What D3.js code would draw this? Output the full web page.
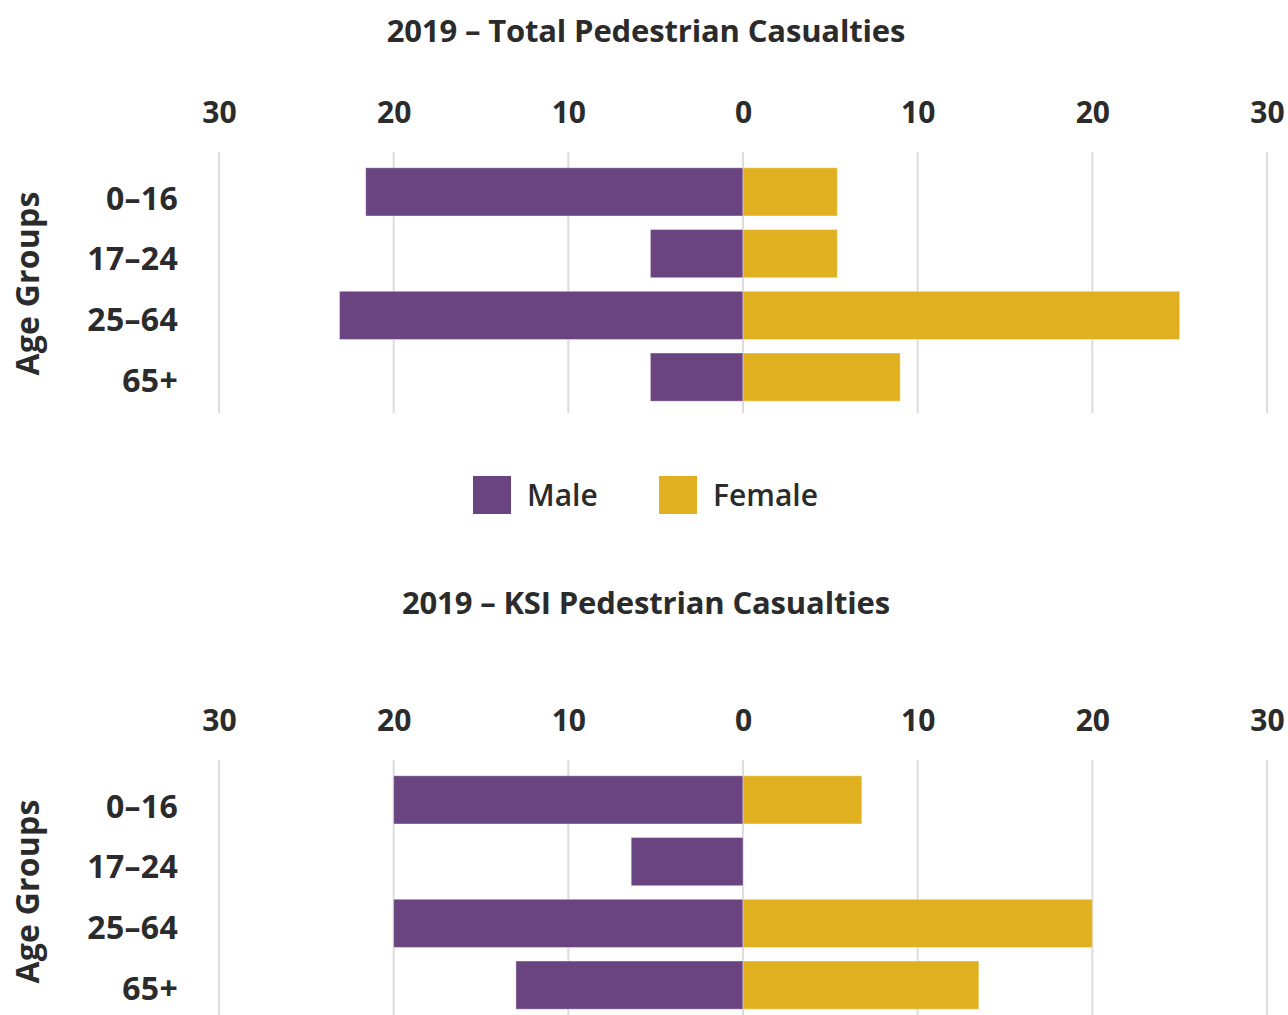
<!DOCTYPE html>
<html>
<head>
<meta charset="utf-8">
<script src="https://cdn.jsdelivr.net/npm/d3@7"></script>
<style>
  html, body { margin: 0; padding: 0; background: #fff; }
  svg { display: block; }
  text { font-family: "Open Sans", "Noto Sans", sans-serif; fill: #2b2b2b; }
</style>
</head>
<body>
<svg id="chart" width="1288" height="1015"></svg>
<script>
// Age bands shown on each pyramid
const ageGroups = ["0–16", "17–24", "25–64", "65+"];

// Share of pedestrian casualties (%) by sex, 2019
const totalMale   = [21.6, 5.3, 23.1, 5.3];
const totalFemale = [5.4, 5.4, 25.0, 9.0];
const ksiMale     = [20.0, 6.4, 20.0, 13.0];
const ksiFemale   = [6.8, 0, 20.0, 13.5];

// Axis ticks on each side of the centre line
const leftTicks  = [30, 20, 10];
const rightTicks = [0, 10, 20, 30];

const seriesNames = ["Male", "Female"];
const colors = { Male: "#6a4480", Female: "#e0b021" };

const svg = d3.select("#chart");
const W = 1288;
const centerX = 743;
const halfWidth = 524;

const xLeft  = d3.scaleLinear().domain([0, 30]).range([centerX, centerX - halfWidth]);
const xRight = d3.scaleLinear().domain([0, 30]).range([centerX, centerX + halfWidth]);

function drawPanel(top, titleY, title, male, female) {
  // title
  svg.append("text")
    .attr("x", W / 2 + 2).attr("y", titleY)
    .attr("text-anchor", "middle")
    .style("font-size", "31px").style("font-weight", 700)
    .style("letter-spacing", "-0.15px")
    .text(title);

  const g = svg.append("g").attr("transform", `translate(0,${top})`);

  const y = d3.scaleBand().domain(ageGroups)
    .range([161, 408]).paddingInner(0.22).paddingOuter(0.11);

  // gridlines
  const gridVals = [
    ...leftTicks.map(v => xLeft(v)),
    ...rightTicks.map(v => xRight(v))
  ];
  g.append("g").selectAll("line").data(gridVals).join("line")
    .attr("x1", d => d).attr("x2", d => d)
    .attr("y1", 152).attr("y2", 413)
    .attr("stroke", "#dcdcdc").attr("stroke-width", 2);

  // tick labels along the top
  const axL = d3.axisTop(xLeft).tickValues(leftTicks).tickSize(0).tickPadding(0);
  const axR = d3.axisTop(xRight).tickValues(rightTicks).tickSize(0).tickPadding(0);
  [axL, axR].forEach(ax => {
    const a = g.append("g").attr("transform", "translate(0,123)").call(ax);
    a.select(".domain").remove();
    a.selectAll("text")
      .attr("dy", 0)
      .style("font-family", "'Open Sans', sans-serif")
      .style("font-size", "30px").style("font-weight", 700)
      .attr("fill", "#2b2b2b");
  });

  // male bars to the left
  g.append("g").selectAll("rect").data(ageGroups).join("rect")
    .attr("x", (d, i) => xLeft(male[i]))
    .attr("y", d => y(d))
    .attr("width", (d, i) => centerX - xLeft(male[i]))
    .attr("height", y.bandwidth())
    .attr("fill", colors.Male)
    .attr("stroke", "rgba(255,255,255,0.35)").attr("stroke-width", 1);

  // female bars to the right
  g.append("g").selectAll("rect").data(ageGroups).join("rect")
    .attr("x", centerX)
    .attr("y", d => y(d))
    .attr("width", (d, i) => xRight(female[i]) - centerX)
    .attr("height", y.bandwidth())
    .attr("fill", colors.Female)
    .attr("stroke", "rgba(255,255,255,0.35)").attr("stroke-width", 1);

  // category labels
  g.append("g").selectAll("text").data(ageGroups).join("text")
    .attr("x", 178)
    .attr("y", (d, i) => y(d) + y.bandwidth() / 2 + 18 - i * 1.2)
    .attr("text-anchor", "end")
    .style("font-size", "32px").style("font-weight", 700)
    .style("letter-spacing", "0.3px")
    .text(d => d);

  // y-axis title
  g.append("text")
    .attr("transform", `translate(39,${(y.range()[0] + y.range()[1]) / 2 - 1}) rotate(-90)`)
    .attr("text-anchor", "middle")
    .style("font-size", "32px").style("font-weight", 700)
    .style("letter-spacing", "0.2px")
    .text("Age Groups");
}

drawPanel(0, 42, "2019 – Total Pedestrian Casualties", totalMale, totalFemale);
drawPanel(608, 614, "2019 – KSI Pedestrian Casualties", ksiMale, ksiFemale);

// legend
const legend = svg.append("g").attr("transform", "translate(0,476)");
const legendX = [473, 659];
seriesNames.forEach((name, i) => {
  legend.append("rect")
    .attr("x", legendX[i]).attr("y", 0)
    .attr("width", 38).attr("height", 38)
    .attr("fill", colors[name]);
  legend.append("text")
    .attr("x", legendX[i] + 54).attr("y", 30)
    .style("font-size", "30px").style("font-weight", 600)
    .text(name);
});
</script>
</body>
</html>
